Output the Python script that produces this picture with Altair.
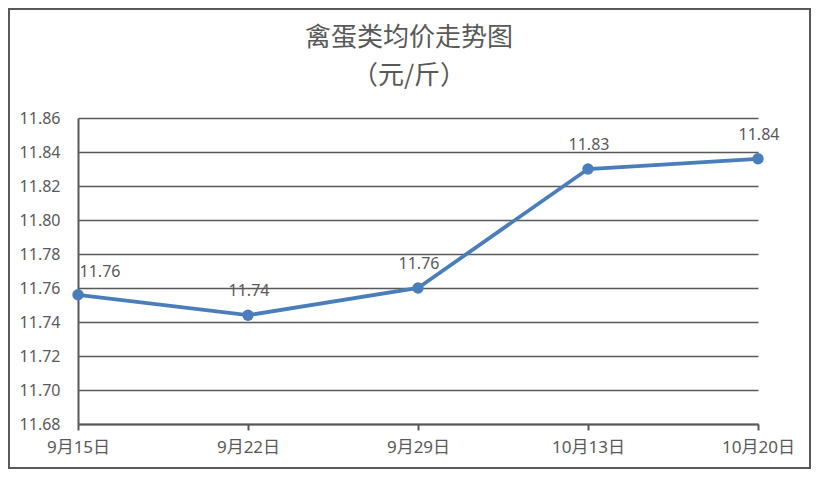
import altair as alt
import pandas as pd

dates = ["9月15日", "9月22日", "9月29日", "10月13日", "10月20日"]
prices = [11.756, 11.744, 11.760, 11.830, 11.836]
labels = ["11.76", "11.74", "11.76", "11.83", "11.84"]
y_ticks = [11.68, 11.70, 11.72, 11.74, 11.76, 11.78, 11.80, 11.82, 11.84, 11.86]
title_lines = ["禽蛋类均价走势图", "（元/斤）"]

df = pd.DataFrame({"date": dates, "price": prices, "label": labels, "idx": list(range(len(dates)))})

FONT = "Noto Sans, Noto Sans CJK SC, sans-serif"
CJK = "Noto Sans CJK SC, sans-serif"
GRAY = "#595959"
BLUE = "#4A7EBB"

W, H = 680, 306
PL, PT, PR, PB = 70, 110, 53, 45

x_enc = alt.X("date:N", sort=dates, scale=alt.Scale(type="point", padding=0),
              axis=alt.Axis(title=None, labelAngle=0, labelFontSize=17, labelColor=GRAY,
                            labelFont=FONT, ticks=True, tickSize=6, tickColor=GRAY, tickWidth=2,
                            domainColor=GRAY, domainWidth=2, labelPadding=9, grid=False))
y_enc = alt.Y("price:Q", scale=alt.Scale(domain=[11.68, 11.86], nice=False, zero=False),
              axis=alt.Axis(title=None, values=y_ticks, format=".2f", labelFontSize=16,
                            labelColor=GRAY, labelFont=FONT, ticks=False, labelPadding=18,
                            domainColor=GRAY, domainWidth=2, grid=True, gridColor=GRAY,
                            gridWidth=1.3))

base = alt.Chart(df)

line = base.mark_line(color=BLUE, strokeWidth=3.8).encode(x=x_enc, y=y_enc)
pts = base.mark_point(filled=True, color=BLUE, size=130, opacity=1).encode(x=x_enc, y=y_enc)

txt_first = base.transform_filter("datum.idx == 0").mark_text(
    fontSize=16, font=FONT, color=GRAY, dx=22, dy=-23, baseline="middle"
).encode(x=x_enc, y=y_enc, text="label:N")
txt_rest = base.transform_filter("datum.idx > 0").mark_text(
    fontSize=16, font=FONT, color=GRAY, dx=1, dy=-24, baseline="middle"
).encode(x=x_enc, y=y_enc, text="label:N")

one = alt.Chart(pd.DataFrame({"a": [0]}))

border = one.mark_rect(
    filled=False, stroke=GRAY, strokeWidth=2, clip=False
).encode(x=alt.value(-PL + 1), x2=alt.value(W + PR - 1),
         y=alt.value(-PT + 1), y2=alt.value(H + PB - 1))

title1 = one.mark_text(text=title_lines[0], fontSize=26, font=CJK, color=GRAY,
                       baseline="middle", align="center").encode(
    x=alt.value(W / 2 - 9), y=alt.value(-80))
title2 = one.mark_text(text=title_lines[1], fontSize=26, font=CJK, color=GRAY,
                       baseline="middle", align="center").encode(
    x=alt.value(W / 2 - 9), y=alt.value(-42))

chart = alt.layer(border, title1, title2, line, pts, txt_first, txt_rest).properties(
    width=W, height=H,
    autosize=alt.AutoSizeParams(type="none"),
    padding={"left": PL, "top": PT, "right": PR, "bottom": PB},
).configure_view(stroke=None)

chart.save("out.html", embed_options={"renderer": "svg", "actions": False})
